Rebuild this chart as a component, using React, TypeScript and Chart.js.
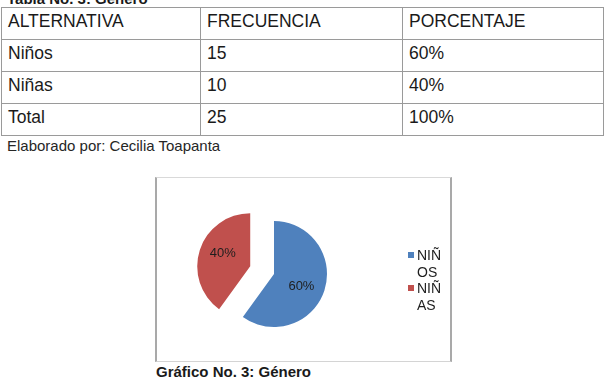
import React, { useEffect, useRef } from 'react';
import { Chart, registerables, ArcElement } from 'chart.js';

Chart.register(...registerables);

// ---- data ----
const tableTitle = 'Tabla No. 3: Género';
const tableHeaders = ['ALTERNATIVA', 'FRECUENCIA', 'PORCENTAJE'];
const alternatives = ['Niños', 'Niñas', 'Total'];
const frequencies = [15, 10, 25];
const percentages = ['60%', '40%', '100%'];
const sourceNote = 'Elaborado por: Cecilia Toapanta';
const pieLabels = ['NIÑOS', 'NIÑAS'];
const pieValues = [15, 10];
const chartCaption = 'Gráfico No. 3: Género';

const BLUE = '#4F81BD';
const RED = '#C0504D';

// Explode a slice by a pure translation (like Excel) instead of Chart.js's enlarging offset.
const arcProto: any = ArcElement.prototype;
if (!arcProto.__explodePatched) {
  const orig = arcProto.draw;
  arcProto.draw = function (ctx: CanvasRenderingContext2D) {
    const off = (this.options && this.options.offset) || 0;
    if (!off) return orig.call(this, ctx);
    const half = (this.startAngle + this.endAngle) / 2;
    const saved = this.options;
    ctx.save();
    ctx.translate(Math.cos(half) * off, Math.sin(half) * off);
    this.options = Object.assign({}, saved, { offset: 0 });
    try {
      orig.call(this, ctx);
    } finally {
      this.options = saved;
      ctx.restore();
    }
  };
  arcProto.__explodePatched = true;
}

const sliceLabels = {
  id: 'sliceLabels',
  afterDatasetsDraw(chart: any) {
    const ctx = chart.ctx;
    const meta = chart.getDatasetMeta(0);
    const data = chart.data.datasets[0].data as number[];
    const total = data.reduce((a, b) => a + b, 0);
    ctx.save();
    ctx.font = '13px "Liberation Sans", Arial, sans-serif';
    ctx.fillStyle = '#1e1e1e';
    ctx.textAlign = 'center';
    ctx.textBaseline = 'middle';
    meta.data.forEach((arc: any, i: number) => {
      const { x, y, startAngle, endAngle, outerRadius, options } = arc;
      const half = (startAngle + endAngle) / 2 + 0.12;
      const off = (options && options.offset) || 0;
      const cx = x + Math.cos((startAngle + endAngle) / 2) * off;
      const cy = y + Math.sin((startAngle + endAngle) / 2) * off;
      const r = outerRadius * 0.57;
      ctx.fillText(Math.round((data[i] / total) * 100) + '%', cx + Math.cos(half) * r, cy + Math.sin(half) * r);
    });
    ctx.restore();
  },
};

const FONT = '"Liberation Sans", Arial, sans-serif';

export default function App() {
  const canvasRef = useRef<HTMLCanvasElement | null>(null);

  useEffect(() => {
    if (!canvasRef.current) return;
    const chart = new Chart(canvasRef.current, {
      type: 'pie',
      data: {
        labels: pieLabels,
        datasets: [
          {
            data: pieValues,
            backgroundColor: [BLUE, RED],
            borderWidth: 0,
            offset: [0, 25],
          },
        ],
      },
      options: {
        animation: false,
        responsive: false,
        maintainAspectRatio: false,
        radius: 53,
        layout: { padding: { top: 9, bottom: 0, left: 0, right: 59 } },
        plugins: {
          legend: { display: false },
          tooltip: { enabled: false },
        },
      },
      plugins: [sliceLabels],
    });
    return () => chart.destroy();
  }, []);

  const cellStyle: React.CSSProperties = {
    border: '1px solid #9a9a9a',
    padding: '3px 6px 0 6px',
    verticalAlign: 'top',
    fontSize: '17.5px',
    lineHeight: '20px',
    color: '#1a1a1a',
    textAlign: 'left',
    fontWeight: 'normal',
  };
  const rowStyle: React.CSSProperties = { height: 32 };

  return (
    <div
      style={{
        position: 'absolute',
        left: 0,
        top: 0,
        width: 605,
        height: 385,
        overflow: 'hidden',
        background: '#fff',
        fontFamily: FONT,
      }}
    >
      <div
        style={{
          position: 'absolute',
          left: 7,
          top: -10,
          fontSize: 15,
          lineHeight: '17px',
          fontWeight: 'bold',
          color: '#1a1a1a',
          whiteSpace: 'nowrap',
        }}
      >
        {tableTitle}
      </div>
      <table
        style={{
          position: 'absolute',
          left: 1,
          top: 7,
          width: 602,
          borderCollapse: 'collapse',
          tableLayout: 'fixed',
        }}
      >
        <colgroup>
          <col style={{ width: 199 }} />
          <col style={{ width: 202 }} />
          <col style={{ width: 201 }} />
        </colgroup>
        <tbody>
          <tr style={rowStyle}>
            {tableHeaders.map((h) => (
              <td key={h} style={cellStyle}>
                {h}
              </td>
            ))}
          </tr>
          {alternatives.map((a, i) => (
            <tr key={a} style={rowStyle}>
              <td style={cellStyle}>{a}</td>
              <td style={cellStyle}>{frequencies[i]}</td>
              <td style={cellStyle}>{percentages[i]}</td>
            </tr>
          ))}
        </tbody>
      </table>
      <div
        style={{
          position: 'absolute',
          left: 7,
          top: 137,
          fontSize: 15,
          lineHeight: '17px',
          color: '#262626',
          whiteSpace: 'nowrap',
        }}
      >
        {sourceNote}
      </div>

      <div
        style={{
          position: 'absolute',
          left: 155,
          top: 177,
          width: 297,
          height: 185,
          boxSizing: 'border-box',
          borderLeft: '2px solid #a9a9a9',
          borderRight: '2px solid #a9a9a9',
          borderTop: '1px solid #d9d9d9',
          borderBottom: '1px solid #d4d4d4',
        }}
      />
      <canvas
        ref={canvasRef}
        width={293}
        height={183}
        style={{ position: 'absolute', left: 157, top: 178, width: 293, height: 183 }}
      />
      <div style={{ position: 'absolute', left: 408, top: 247 }}>
        {pieLabels.map((l, i) => (
          <div key={l} style={{ display: 'flex', alignItems: 'flex-start' }}>
            <div
              style={{
                width: 6,
                height: 6,
                marginTop: 5,
                background: i === 0 ? BLUE : RED,
                flex: '0 0 auto',
              }}
            />
            <div
              style={{
                marginLeft: 3,
                width: 27,
                fontSize: 14,
                lineHeight: '16.5px',
                color: '#1e1e1e',
                wordBreak: 'break-all',
              }}
            >
              {l}
            </div>
          </div>
        ))}
      </div>
      <div
        style={{
          position: 'absolute',
          left: 156,
          top: 363,
          fontSize: 15,
          lineHeight: '17px',
          fontWeight: 'bold',
          color: '#1a1a1a',
          whiteSpace: 'nowrap',
        }}
      >
        {chartCaption}
      </div>
    </div>
  );
}
